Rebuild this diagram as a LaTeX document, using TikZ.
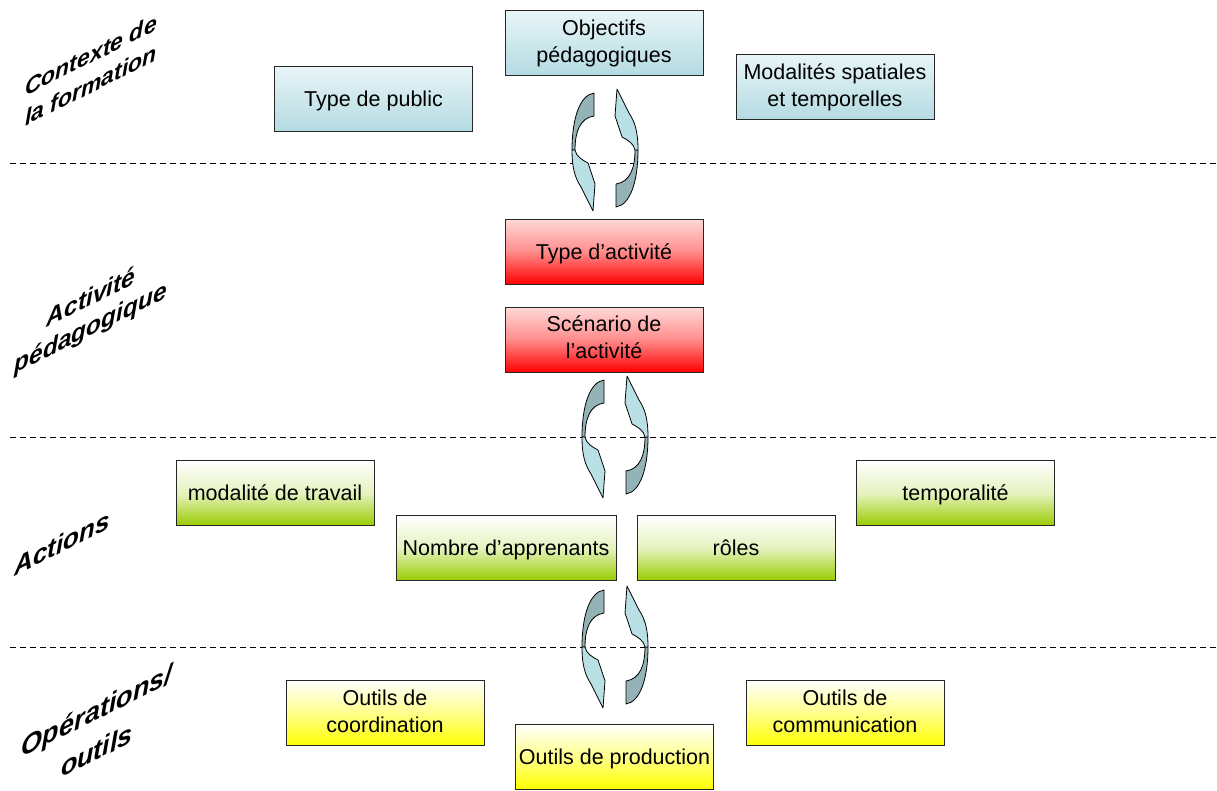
\documentclass[tikz,border=0pt]{standalone}
\usepackage{fontspec}
\setmainfont{Liberation Sans}
\definecolor{bluebot}{RGB}{180,219,226}
\definecolor{bluetop}{RGB}{232,245,247}
\definecolor{redbot}{RGB}{255,0,0}
\definecolor{greenbot}{RGB}{153,204,0}
\definecolor{yellowbot}{RGB}{255,255,0}
\definecolor{adark}{RGB}{147,179,182}
\definecolor{alight}{RGB}{185,224,228}
\newcommand{\topstrut}{\rule{0pt}{0.95em}}
\newcommand{\botstrut}{\rule[-0.21em]{0pt}{0.21em}}
\tikzset{
  box/.style={draw=black!85, line width=1pt, align=center, inner sep=0pt,
    minimum width=198pt, minimum height=65pt,
    font=\fontsize{21.5}{27}\selectfont,
    execute at begin node=\topstrut, execute at end node=\botstrut},
  bluebox/.style={box, top color=bluetop, bottom color=bluebot},
  redbox/.style={box, top color=white!85!red, bottom color=redbot, middle color=white!55!red},
  greenbox/.style={box, top color=white, bottom color=greenbot, middle color=white!75!greenbot},
  yellowbox/.style={box, top color=white, bottom color=yellowbot, middle color=white!55!yellowbot},
  sidelabel/.style={yslant=0.5, align=center, font=\fontsize{24.5}{30}\selectfont\bfseries\itshape},
  sep/.style={draw=black, line width=0.9pt, dash pattern=on 6pt off 4pt},
  arw/.style={draw=black, line width=0.8pt, line join=round},
  half/.pic={
    \filldraw[arw, fill=adark] (-11,-57) .. controls (-25,-55) and (-33,-32) .. (-33,0)
       -- (-30,0) .. controls (-30,-18) and (-25,-32) .. (-11,-34) -- cycle;
    \filldraw[arw, fill=alight] (-33,0) .. controls (-33,18) and (-30,28) .. (-24,37)
       -- (-12,61) -- (-10,34) -- (-14,22) -- (-17,13)
       .. controls (-23,10) and (-29,6) .. (-30,0) -- cycle;
  },
  cycl/.pic={
    \pic {half};
    \pic[rotate=180] {half};
  }
}
\begin{document}
\begin{tikzpicture}[x=1pt,y=-1pt]
\useasboundingbox (0,0) rectangle (1217,790);

% separators
\coordinate (s1a) at (10,163); \coordinate (s1b) at (1217,163);
\coordinate (s2a) at (10,437); \coordinate (s2b) at (1217,437);
\coordinate (s3a) at (10,647); \coordinate (s3b) at (1217,647);
\draw[sep] (s1a) -- (s1b);
\draw[sep] (s2a) -- (s2b);
\draw[sep] (s3a) -- (s3b);

% side labels
\node[sidelabel, font=\fontsize{23}{30}\selectfont\bfseries\itshape] (l1) at (91,70) {Contexte de\\la formation};
\node[sidelabel] (l2) at (91,314) {Activité\\pédagogique};
\node[sidelabel, font=\fontsize{26}{30}\selectfont\bfseries\itshape] (l3) at (62,543) {Actions};
\node[sidelabel, font=\fontsize{27}{40}\selectfont\bfseries\itshape] (l4) at (97,730) {Opérations/\\outils};

% cycle arrows
\pic at (605,150) {cycl};
\pic at (615,437) {cycl};
\pic at (615,647) {cycl};

% context
\node[bluebox] (obj) at (604,43) {Objectifs\\pédagogiques};
\node[bluebox] (pub) at (373.5,98.5) {Type de public};
\node[bluebox] (mod) at (835,87) {Modalités spatiales\\et temporelles};

% activity
\node[redbox] (typ) at (604,251.5) {Type d’activité};
\node[redbox] (scen) at (604,339.5) {Scénario de\\l’activité};

% actions
\node[greenbox] (trav) at (275,493) {modalité de travail};
\node[greenbox, minimum width=220pt] (nomb) at (506,548) {Nombre d’apprenants};
\node[greenbox] (roles) at (736,548) {rôles};
\node[greenbox] (temp) at (955.5,493) {temporalité};

% tools
\node[yellowbox] (coord) at (385,713) {Outils de\\coordination};
\node[yellowbox] (prod) at (614.5,756.5) {Outils de production};
\node[yellowbox] (comm) at (845,713) {Outils de\\communication};
\end{tikzpicture}
\end{document}
